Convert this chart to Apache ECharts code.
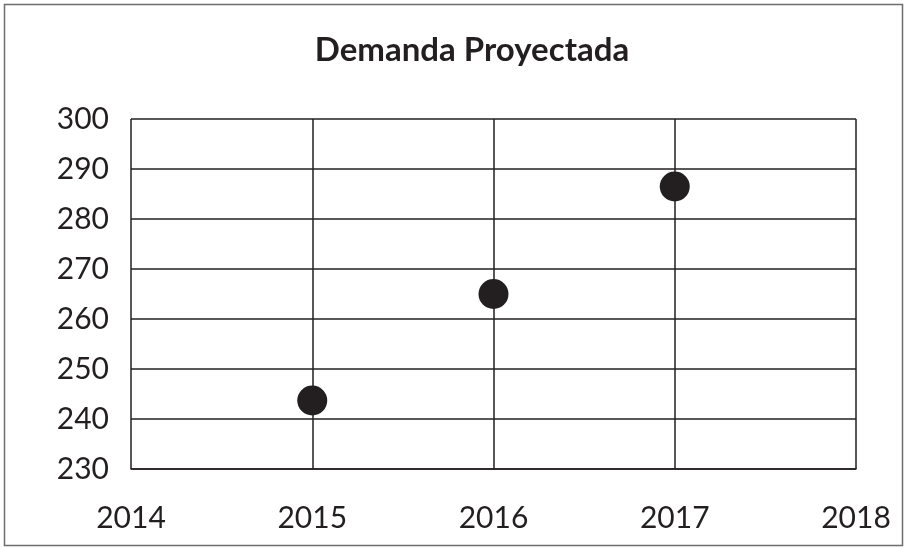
<!DOCTYPE html>
<html>
<head>
<meta charset="utf-8">
<script src="https://cdn.jsdelivr.net/npm/echarts@6/dist/echarts.min.js"></script>
<style>
  html, body { margin: 0; padding: 0; background: #fff; }
  #main { width: 908px; height: 548px; }
</style>
</head>
<body>
<div id="main"></div>
<script>
// datos
var years = ['2014', '2015', '2016', '2017', '2018'];
var demanda = [null, 243.7, 265, 286.5, null];
var yMin = 230, yMax = 300, yStep = 10;

var ink = '#231f20';
var chart = echarts.init(document.getElementById('main'));
chart.setOption({
  animation: false,
  backgroundColor: '#fff',
  title: {
    text: 'Demanda Proyectada',
    left: 467,
    top: 29,
    textAlign: 'center',
    textStyle: { fontFamily: 'Lato', fontWeight: 'bold', fontSize: 33, color: ink }
  },
  graphic: [{
    type: 'rect',
    shape: { x: 4.5, y: 4.5, width: 898, height: 541 },
    style: { fill: 'none', stroke: '#6d6d6d', lineWidth: 1.5 },
    silent: true
  }],
  grid: { left: 131, right: 52, top: 119, bottom: 79 },
  xAxis: {
    type: 'category',
    data: years,
    boundaryGap: false,
    axisLine: { show: true, lineStyle: { color: ink, width: 1.5 } },
    axisTick: { show: false },
    splitLine: { show: true, lineStyle: { color: ink, width: 1.5 } },
    axisLabel: { margin: 34, fontFamily: 'Lato', fontSize: 30, color: ink }
  },
  yAxis: {
    type: 'value',
    min: yMin,
    max: yMax,
    interval: yStep,
    axisLine: { show: false },
    axisTick: { show: false },
    splitLine: { show: true, lineStyle: { color: ink, width: 1.5 } },
    axisLabel: { margin: 22, fontFamily: 'Lato', fontSize: 30, color: ink }
  },
  series: [{
    name: 'Demanda',
    type: 'scatter',
    data: demanda,
    symbol: 'circle',
    symbolSize: 30,
    itemStyle: { color: ink, opacity: 1 }
  }]
});
</script>
</body>
</html>
